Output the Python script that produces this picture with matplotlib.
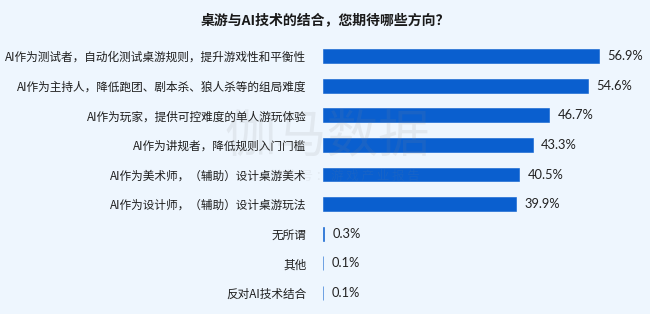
import matplotlib
matplotlib.use("Agg")
import matplotlib.pyplot as plt

plt.rcParams['font.family'] = ['Noto Sans CJK SC', 'DejaVu Sans']

title = "桌游与AI技术的结合，您期待哪些方向？"
categories = [
    "AI作为测试者，自动化测试桌游规则，提升游戏性和平衡性",
    "AI作为主持人，降低跑团、剧本杀、狼人杀等的组局难度",
    "AI作为玩家，提供可控难度的单人游玩体验",
    "AI作为讲规者，降低规则入门门槛",
    "AI作为美术师，（辅助）设计桌游美术",
    "AI作为设计师，（辅助）设计桌游玩法",
    "无所谓",
    "其他",
    "反对AI技术结合",
]
values = [56.9, 54.6, 46.7, 43.3, 40.5, 39.9, 0.3, 0.1, 0.1]

bg = "#EEF6FE"
bar_color = "#0A5FCF"

fig = plt.figure(figsize=(6.5, 3.14), dpi=100, facecolor=bg)
ax = fig.add_axes([323 / 650, 0.0197, 320 / 650, 0.849])
ax.set_facecolor(bg)

# watermark (behind everything)
fig.text(327 / 650, 1 - 137 / 314, "伽马数据", ha="center", va="center",
         fontsize=37, color="#888888", alpha=0.12, zorder=0)
fig.text(345 / 650, 1 - 176 / 314, "微 信 号 ： 游 戏 产 业 报 告", ha="center",
         va="center", fontsize=9, color="#888888", alpha=0.10, zorder=0)
ax.patch.set_alpha(0)

ypos = list(range(len(categories)))
ax.barh(ypos, values, height=0.47, color=bar_color,
        edgecolor=bar_color, linewidth=0.4)
ax.set_xlim(0, 66)
ax.set_ylim(len(categories) - 0.5, -0.5)

for y, v in zip(ypos, values):
    ax.text(v + 1.7, y, f"{v:.1f}%", va="center", ha="left",
            fontsize=9.3, color="#222222", family=["Lato", "DejaVu Sans"])

ax.set_yticks(ypos)
ax.set_yticklabels(categories, fontsize=8.4, color="#1e1e1e")
ax.tick_params(axis="y", length=0, pad=12)
ax.set_xticks([])
for s in ax.spines.values():
    s.set_visible(False)

fig.text(0.5, 0.935, title, ha="center", va="center", fontsize=10,
         fontweight="bold", color="#1a1a1a")

fig.savefig("out.png", dpi=100, facecolor=bg)
